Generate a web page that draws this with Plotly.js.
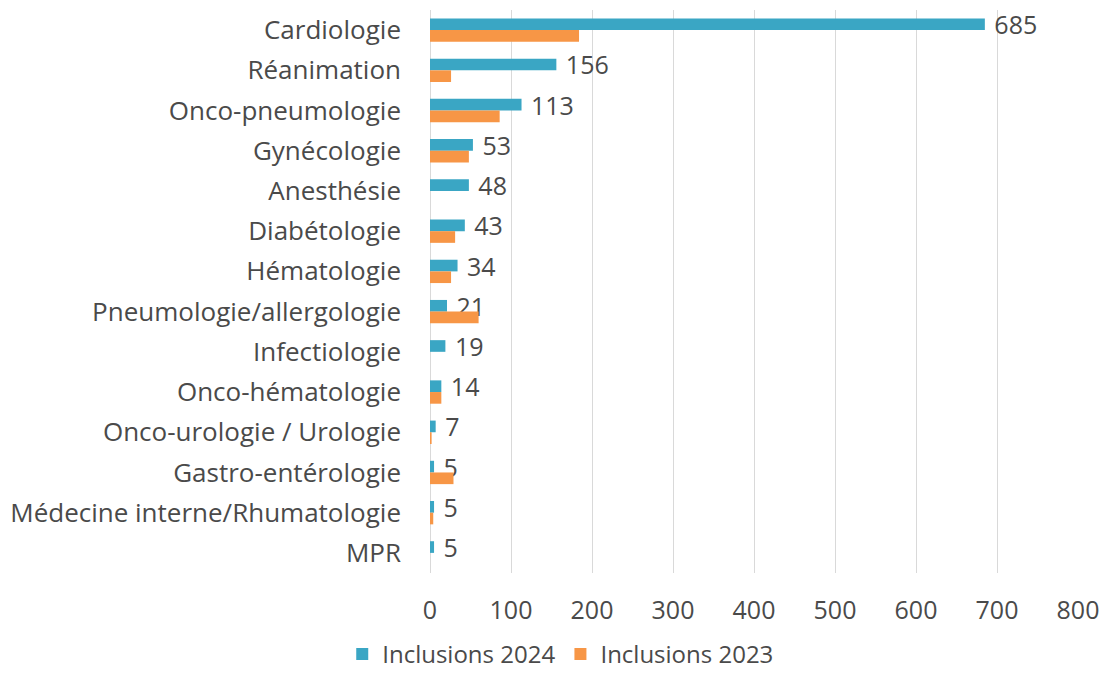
<!DOCTYPE html>
<html>
<head>
<meta charset="utf-8">
<script src="https://cdn.plot.ly/plotly-3.0.1.min.js"></script>
<style>html,body{margin:0;padding:0;background:#fff;}#chart{width:1106px;height:679px;}</style>
</head>
<body>
<div id="chart"></div>
<script>
const categories = ["Cardiologie","Réanimation","Onco-pneumologie","Gynécologie","Anesthésie","Diabétologie","Hématologie","Pneumologie/allergologie","Infectiologie","Onco-hématologie","Onco-urologie / Urologie","Gastro-entérologie","Médecine interne/Rhumatologie","MPR"];
const inclusions2024 = [685,156,113,53,48,43,34,21,19,14,7,5,5,5];
const inclusions2023 = [184,26,86,48,0,31,26,60,0,14,2,29,4,0];
const xTicks = [0,100,200,300,400,500,600,700,800];

const fontFam = "Open Sans, Liberation Sans, sans-serif";
const txtColor = "#4a4a4a";

const data = [
  {
    type: "bar", orientation: "h", name: "Inclusions 2024",
    y: categories, x: inclusions2024,
    marker: {color: "#3aa6c4"},
    text: inclusions2024.map(v => "\u00a0" + v), textposition: "outside",
    constraintext: "none",
    textfont: {family: fontFam, size: 25, color: txtColor},
    cliponaxis: false, hoverinfo: "x+y"
  },
  {
    type: "bar", orientation: "h", name: "Inclusions 2023",
    y: categories, x: inclusions2023,
    marker: {color: "#f79646"},
    hoverinfo: "x+y"
  }
];

const layout = {
  width: 1106, height: 679,
  margin: {l: 430, r: 28, t: 10, b: 106, autoexpand: false},
  paper_bgcolor: "#fff", plot_bgcolor: "#fff",
  barmode: "group", bargap: 0.42, bargroupgap: 0,
  font: {family: fontFam, size: 25, color: txtColor},
  xaxis: {
    range: [0, 800], tickvals: xTicks, ticktext: xTicks.map(String),
    showgrid: true, gridcolor: "#d9d9d9", gridwidth: 1,
    zeroline: true, zerolinecolor: "#d9d9d9", zerolinewidth: 1,
    showline: false, ticks: "", ticklabelstandoff: 20,
    tickfont: {family: fontFam, size: 25, color: txtColor}, fixedrange: true,
    automargin: false
  },
  yaxis: {
    type: "category", autorange: "reversed",
    showgrid: false, zeroline: false, showline: false, ticks: "",
    ticklabelstandoff: 28, automargin: false,
    tickfont: {family: fontFam, size: 26, color: txtColor}
  },
  legend: {
    orientation: "h", x: 0.507, xref: "container", xanchor: "center",
    y: 0.003, yref: "container", yanchor: "bottom",
    font: {family: fontFam, size: 24, color: txtColor},
    itemwidth: 30, traceorder: "normal"
  },
  showlegend: true
};

Plotly.newPlot("chart", data, layout, {displayModeBar: false, staticPlot: true});
</script>
</body>
</html>
